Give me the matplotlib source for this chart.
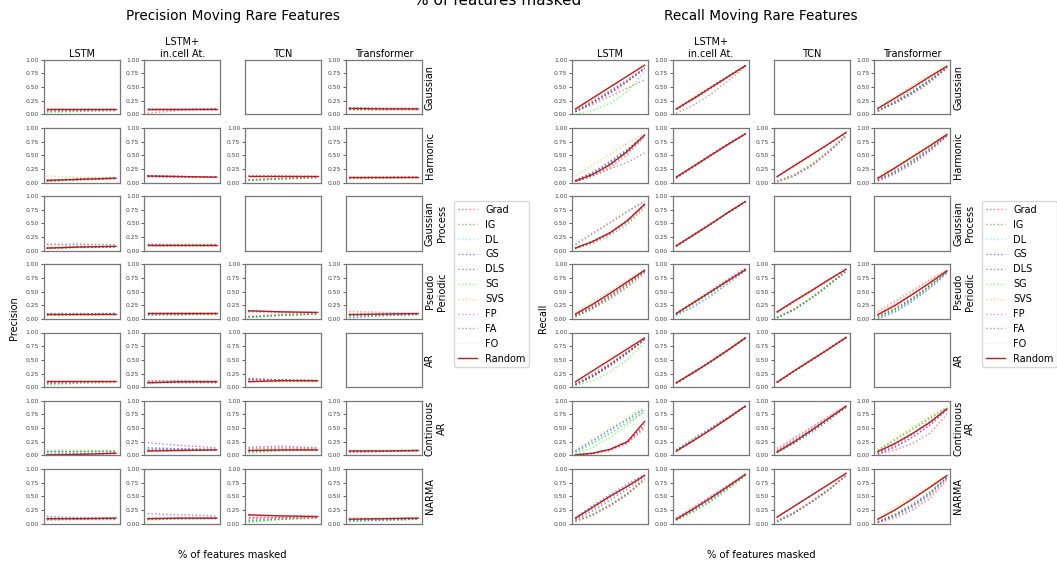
import numpy as np
import matplotlib.pyplot as plt

# attribution methods, in legend order (Random is the solid baseline)
METHODS = ["Grad", "IG", "DL", "GS", "DLS", "SG", "SVS", "FP", "FA", "FO", "Random"]
COLORS = ["red", "green", "cyan", "blue", "purple", "lime", "orange",
          "deeppink", "brown", "pink", "firebrick"]

MODELS = ["LSTM", "LSTM+", "TCN", "Transformer"]
MODEL_TITLES = ["LSTM", "LSTM+\nin.cell At.", "TCN", "Transformer"]
DATASETS = ["Gaussian", "Harmonic", "Gaussian\nProcess", "Pseudo\nPeriodic",
            "AR", "Continuous\nAR", "NARMA"]

# fraction of features masked
PREC_X = [0.1, 0.5, 0.9]
REC_X = [0.1, 0.3, 0.5, 0.7, 0.9]

# ---- precision ----
prec_gaussian = {
    "LSTM": [[.10, .10, .10], [.05, .06, .07], [.08, .08, .09], [.09, .09, .09], [.08, .08, .09], [.03, .05, .07],
             [.10, .10, .10], [.06, .07, .08], [.10, .10, .10], [.09, .09, .09], [.10, .10, .10]],
    "LSTM+": [[.02, .08, .10], [.10, .10, .10], [.10, .10, .10], [.09, .09, .10], [.10, .10, .10], [.10, .10, .10],
              [.10, .10, .10], [.08, .09, .10], [.10, .10, .10], [.10, .10, .10], [.10, .10, .10]],
    "Transformer": [[.12, .11, .11], [.09, .09, .09], [.10, .10, .10], [.10, .10, .10], [.10, .10, .10], [.09, .09, .09],
                    [.11, .10, .10], [.11, .11, .10], [.12, .11, .11], [.11, .10, .10], [.11, .10, .10]],
}
prec_harmonic = {
    "LSTM": [[.03, .06, .08], [.03, .06, .08], [.04, .07, .09], [.04, .06, .08], [.04, .07, .09], [.02, .05, .07],
             [.12, .10, .09], [.03, .05, .07], [.03, .06, .08], [.03, .06, .08], [.04, .06, .08]],
    "LSTM+": [[.13, .11, .10], [.12, .11, .10], [.11, .10, .10], [.11, .10, .10], [.12, .11, .10], [.12, .11, .10],
              [.12, .11, .10], [.11, .10, .10], [.13, .11, .10], [.12, .11, .10], [.12, .11, .10]],
    "TCN": [[.12, .12, .11], [.05, .07, .10], [.04, .07, .09], [.04, .07, .09], [.05, .08, .10], [.04, .07, .10],
            [.05, .08, .10], [.12, .11, .11], [.12, .12, .11], [.11, .11, .11], [.12, .12, .12]],
    "Transformer": [[.10, .10, .10], [.08, .09, .10], [.09, .09, .10], [.08, .09, .10], [.08, .09, .10], [.07, .08, .09],
                    [.10, .10, .10], [.09, .10, .10], [.10, .10, .10], [.09, .10, .10], [.10, .10, .10]],
}
prec_gauss_proc = {
    "LSTM": [[.05, .07, .08], [.05, .07, .08], [.06, .07, .08], [.12, .12, .11], [.05, .07, .08], [.04, .06, .07],
             [.10, .10, .10], [.04, .06, .07], [.05, .07, .08], [.05, .07, .08], [.05, .07, .08]],
    "LSTM+": [[.10, .11, .11], [.11, .11, .11], [.11, .11, .11], [.11, .11, .11], [.12, .11, .11], [.10, .11, .11],
              [.11, .11, .11], [.11, .11, .11], [.11, .11, .11], [.11, .11, .11], [.11, .11, .11]],
}
prec_pseudo = {
    "LSTM": [[.09, .09, .10], [.07, .08, .09], [.09, .09, .09], [.09, .09, .10], [.08, .09, .09], [.06, .07, .08],
             [.10, .10, .10], [.08, .08, .09], [.09, .09, .10], [.09, .09, .09], [.10, .10, .10]],
    "LSTM+": [[.11, .11, .11], [.10, .10, .10], [.09, .10, .10], [.07, .08, .10], [.11, .11, .11], [.10, .10, .10],
              [.11, .11, .11], [.11, .11, .11], [.11, .11, .11], [.12, .11, .11], [.11, .11, .11]],
    "TCN": [[.14, .12, .11], [.04, .07, .09], [.03, .07, .09], [.03, .07, .09], [.05, .08, .10], [.03, .07, .09],
            [.05, .08, .10], [.13, .12, .11], [.15, .13, .12], [.12, .11, .11], [.15, .13, .12]],
    "Transformer": [[.10, .10, .10], [.06, .08, .09], [.04, .07, .08], [.02, .06, .08], [.07, .08, .09], [.06, .07, .08],
                    [.09, .10, .10], [.14, .12, .10], [.09, .10, .10], [.12, .11, .10], [.08, .09, .10]],
}
prec_ar = {
    "LSTM": [[.11, .11, .11], [.06, .08, .09], [.08, .09, .10], [.08, .09, .10], [.09, .10, .10], [.04, .07, .09],
             [.10, .10, .10], [.07, .09, .10], [.11, .11, .11], [.10, .10, .10], [.11, .11, .11]],
    "LSTM+": [[.11, .11, .11], [.09, .10, .10], [.10, .10, .10], [.10, .10, .10], [.12, .12, .11], [.09, .10, .10],
              [.10, .10, .10], [.11, .11, .11], [.10, .10, .10], [.11, .11, .11], [.08, .10, .10]],
    "TCN": [[.14, .13, .12], [.12, .12, .12], [.13, .12, .12], [.16, .13, .12], [.15, .13, .12], [.12, .12, .12],
            [.13, .12, .12], [.14, .13, .12], [.13, .12, .12], [.13, .12, .12], [.10, .12, .12]],
}
prec_cont_ar = {
    "LSTM": [[.00, .02, .03], [.08, .08, .08], [.08, .08, .08], [.07, .07, .08], [.02, .03, .04], [.06, .07, .08],
             [.10, .10, .09], [.01, .02, .03], [.02, .03, .04], [.01, .02, .03], [.01, .02, .04]],
    "LSTM+": [[.09, .10, .10], [.09, .09, .10], [.13, .12, .11], [.14, .12, .11], [.23, .18, .14], [.09, .09, .10],
              [.10, .10, .10], [.11, .11, .11], [.09, .10, .10], [.10, .10, .10], [.08, .09, .10]],
    "TCN": [[.10, .10, .10], [.06, .09, .10], [.08, .10, .11], [.08, .10, .11], [.15, .17, .14], [.04, .09, .10],
            [.09, .10, .11], [.13, .14, .13], [.12, .13, .12], [.12, .13, .12], [.09, .10, .10]],
    "Transformer": [[.08, .08, .09], [.08, .08, .09], [.07, .08, .09], [.05, .07, .08], [.08, .08, .09], [.09, .09, .09],
                    [.10, .10, .10], [.08, .08, .09], [.08, .09, .09], [.09, .09, .09], [.08, .08, .09]],
}
prec_narma = {
    "LSTM": [[.09, .09, .09], [.07, .08, .09], [.07, .08, .09], [.13, .11, .10], [.10, .10, .10], [.07, .08, .09],
             [.09, .09, .10], [.07, .08, .09], [.10, .10, .10], [.08, .08, .09], [.09, .09, .10]],
    "LSTM+": [[.10, .10, .10], [.07, .09, .10], [.09, .10, .10], [.09, .10, .10], [.18, .16, .14], [.07, .09, .10],
              [.10, .10, .10], [.11, .11, .11], [.10, .10, .10], [.12, .12, .11], [.09, .10, .10]],
    "TCN": [[.12, .12, .12], [.03, .08, .10], [.05, .09, .11], [.06, .09, .11], [.10, .11, .12], [.03, .08, .10],
            [.07, .10, .11], [.12, .12, .12], [.15, .14, .13], [.11, .12, .12], [.16, .14, .13]],
    "Transformer": [[.09, .09, .10], [.06, .07, .08], [.05, .07, .08], [.04, .06, .08], [.07, .08, .09], [.06, .07, .08],
                    [.11, .10, .10], [.08, .09, .09], [.09, .09, .10], [.09, .09, .10], [.08, .09, .10]],
}

# ---- recall ----
rec_gaussian = {
    "LSTM": [[.08, .26, .44, .63, .85], [.06, .22, .40, .60, .84], [.07, .24, .43, .63, .86], [.06, .23, .42, .62, .85],
             [.05, .22, .40, .61, .84], [.00, .07, .20, .42, .78], [.10, .30, .50, .70, .90], [.05, .20, .38, .59, .83],
             [.05, .18, .33, .48, .63], [.07, .25, .43, .63, .86], [.10, .30, .50, .70, .90]],
    "LSTM+": [[.09, .28, .48, .69, .89], [.09, .29, .49, .69, .89], [.10, .30, .50, .70, .89], [.09, .29, .49, .69, .89],
              [.10, .31, .51, .70, .89], [.09, .28, .48, .69, .89], [.10, .30, .50, .70, .89], [.08, .28, .48, .68, .89],
              [.02, .17, .37, .61, .87], [.09, .29, .49, .69, .89], [.10, .29, .49, .69, .89]],
    "Transformer": [[.07, .21, .38, .59, .85], [.07, .23, .41, .62, .86], [.06, .23, .41, .62, .86], [.05, .22, .40, .62, .86],
                    [.07, .24, .42, .63, .86], [.06, .22, .40, .62, .86], [.11, .32, .53, .73, .90], [.07, .20, .37, .58, .84],
                    [.09, .27, .46, .67, .88], [.08, .26, .45, .66, .87], [.11, .30, .49, .69, .88]],
}
rec_harmonic = {
    "LSTM": [[.02, .13, .30, .54, .84], [.03, .15, .33, .57, .86], [.04, .18, .38, .60, .86], [.04, .17, .36, .59, .86],
             [.04, .19, .39, .61, .87], [.02, .13, .31, .56, .86], [.12, .32, .52, .72, .90], [.02, .12, .27, .50, .84],
             [.02, .12, .25, .37, .54], [.03, .14, .31, .55, .85], [.03, .15, .33, .57, .87]],
    "LSTM+": [[.10, .30, .50, .70, .89], [.10, .30, .50, .70, .89], [.09, .30, .51, .70, .89], [.08, .28, .49, .69, .89],
              [.09, .30, .52, .71, .89], [.10, .30, .50, .70, .89], [.10, .31, .51, .71, .90], [.09, .29, .50, .70, .89],
              [.10, .30, .50, .70, .89], [.10, .30, .51, .70, .89], [.10, .30, .50, .70, .89]],
    "TCN": [[.10, .30, .50, .70, .91], [.03, .14, .33, .58, .87], [.02, .13, .32, .57, .86], [.02, .13, .31, .56, .86],
            [.02, .13, .32, .57, .86], [.03, .15, .34, .58, .87], [.02, .14, .33, .58, .87], [.01, .12, .30, .55, .85],
            [.11, .31, .51, .71, .91], [.02, .13, .32, .57, .86], [.11, .31, .51, .71, .92]],
    "Transformer": [[.06, .21, .40, .62, .87], [.07, .23, .42, .64, .88], [.05, .20, .39, .61, .86], [.04, .18, .37, .59, .86],
                    [.03, .16, .34, .57, .85], [.06, .21, .40, .62, .87], [.10, .29, .49, .69, .89], [.05, .20, .38, .60, .86],
                    [.09, .27, .47, .67, .88], [.07, .24, .43, .65, .88], [.08, .27, .47, .67, .88]],
}
rec_gauss_proc = {
    "LSTM": [[.05, .16, .32, .53, .83], [.05, .17, .33, .55, .84], [.05, .18, .34, .56, .85], [.12, .32, .52, .72, .91],
             [.05, .17, .33, .55, .84], [.04, .13, .28, .47, .78], [.10, .30, .50, .70, .90], [.04, .14, .30, .50, .80],
             [.05, .17, .33, .55, .85], [.05, .16, .32, .53, .83], [.05, .17, .33, .55, .85]],
    "LSTM+": [[.09, .29, .49, .70, .90], [.08, .28, .48, .69, .89], [.09, .29, .49, .70, .90], [.09, .29, .50, .70, .90],
              [.10, .30, .50, .70, .90], [.08, .28, .48, .69, .90], [.09, .29, .49, .70, .90], [.09, .29, .49, .70, .90],
              [.08, .28, .49, .70, .90], [.09, .29, .49, .70, .90], [.09, .29, .49, .70, .90]],
}
rec_pseudo = {
    "LSTM": [[.06, .22, .42, .64, .88], [.05, .20, .39, .61, .86], [.08, .26, .46, .67, .89], [.09, .27, .47, .68, .89],
             [.07, .24, .44, .66, .88], [.04, .18, .36, .57, .82], [.12, .32, .52, .72, .91], [.04, .19, .37, .59, .85],
             [.06, .22, .41, .63, .87], [.08, .26, .46, .67, .89], [.09, .27, .47, .68, .89]],
    "LSTM+": [[.10, .30, .50, .71, .91], [.09, .28, .48, .69, .90], [.08, .26, .46, .68, .89], [.07, .22, .42, .65, .88],
              [.10, .31, .51, .72, .92], [.09, .28, .48, .69, .90], [.10, .30, .50, .71, .91], [.10, .31, .52, .73, .93],
              [.10, .30, .50, .70, .90], [.11, .32, .53, .74, .94], [.10, .30, .50, .70, .90]],
    "TCN": [[.12, .32, .52, .72, .91], [.03, .18, .39, .63, .88], [.02, .17, .38, .62, .88], [.02, .17, .38, .62, .87],
            [.03, .18, .39, .63, .88], [.02, .17, .38, .62, .88], [.03, .19, .40, .64, .89], [.12, .31, .51, .71, .91],
            [.13, .32, .52, .72, .91], [.11, .30, .50, .70, .90], [.13, .33, .52, .72, .91]],
    "Transformer": [[.05, .20, .39, .62, .87], [.03, .17, .36, .60, .86], [.02, .15, .34, .58, .85], [.00, .13, .32, .56, .84],
                    [.04, .18, .37, .60, .86], [.03, .16, .35, .59, .86], [.10, .29, .49, .70, .90], [.14, .33, .52, .72, .90],
                    [.07, .24, .44, .66, .88], [.12, .31, .50, .70, .89], [.08, .25, .45, .66, .88]],
}
rec_ar = {
    "LSTM": [[.06, .22, .42, .64, .88], [.05, .20, .40, .62, .87], [.07, .24, .44, .66, .89], [.05, .20, .40, .63, .88],
             [.06, .22, .42, .64, .88], [.03, .12, .28, .50, .82], [.08, .26, .46, .67, .89], [.04, .18, .38, .61, .87],
             [.06, .22, .42, .64, .88], [.07, .24, .44, .66, .89], [.10, .30, .50, .70, .90]],
    "LSTM+": [[.08, .27, .47, .68, .90], [.07, .26, .46, .67, .89], [.08, .27, .47, .68, .90], [.07, .26, .46, .68, .90],
              [.08, .28, .48, .69, .90], [.07, .26, .46, .67, .89], [.08, .27, .47, .68, .90], [.08, .28, .48, .69, .91],
              [.08, .27, .47, .68, .90], [.08, .28, .48, .69, .90], [.08, .27, .47, .68, .90]],
    "TCN": [[.09, .30, .50, .70, .91], [.09, .29, .50, .70, .91], [.09, .30, .50, .70, .91], [.09, .30, .50, .70, .91],
            [.09, .30, .50, .71, .91], [.09, .29, .50, .70, .91], [.09, .30, .50, .70, .91], [.10, .30, .51, .71, .92],
            [.09, .30, .50, .70, .91], [.10, .30, .51, .71, .92], [.09, .30, .50, .70, .91]],
}
rec_cont_ar = {
    "LSTM": [[.00, .03, .09, .22, .50], [.06, .22, .40, .60, .80], [.07, .25, .44, .64, .85], [.08, .27, .47, .66, .85],
             [.01, .04, .11, .25, .55], [.03, .15, .32, .55, .82], [.10, .30, .50, .69, .88], [.00, .03, .10, .23, .52],
             [.01, .04, .11, .25, .58], [.00, .03, .08, .20, .48], [.01, .04, .11, .25, .62]],
    "LSTM+": [[.08, .28, .48, .69, .90], [.08, .28, .48, .68, .89], [.12, .32, .51, .70, .90], [.10, .30, .50, .70, .90],
              [.09, .29, .49, .69, .90], [.08, .28, .48, .68, .89], [.09, .29, .49, .69, .90], [.08, .27, .47, .68, .90],
              [.08, .27, .47, .68, .89], [.09, .29, .49, .69, .90], [.08, .27, .47, .68, .90]],
    "TCN": [[.10, .30, .50, .70, .90], [.06, .24, .44, .66, .88], [.07, .25, .45, .67, .89], [.05, .22, .42, .64, .88],
            [.08, .27, .47, .68, .90], [.05, .23, .44, .66, .89], [.07, .26, .46, .68, .89], [.13, .33, .52, .72, .91],
            [.07, .26, .46, .68, .90], [.12, .32, .51, .71, .90], [.06, .25, .46, .68, .90]],
    "Transformer": [[.02, .10, .22, .40, .75], [.09, .28, .47, .67, .87], [.04, .18, .37, .59, .85], [.02, .15, .33, .55, .83],
                    [.05, .19, .38, .60, .85], [.10, .30, .50, .70, .88], [.10, .30, .50, .70, .89], [.04, .16, .33, .55, .83],
                    [.06, .21, .40, .62, .86], [.05, .19, .37, .59, .85], [.07, .22, .40, .60, .85]],
}
rec_narma = {
    "LSTM": [[.05, .17, .34, .55, .82], [.05, .17, .34, .55, .82], [.08, .25, .45, .66, .88], [.11, .33, .53, .72, .90],
             [.07, .23, .42, .63, .86], [.04, .15, .32, .52, .80], [.09, .28, .48, .68, .88], [.04, .15, .32, .53, .80],
             [.09, .28, .48, .68, .88], [.05, .18, .36, .57, .84], [.10, .30, .50, .68, .88]],
    "LSTM+": [[.09, .28, .49, .70, .90], [.06, .22, .41, .63, .88], [.08, .26, .46, .67, .89], [.07, .24, .44, .66, .89],
              [.09, .28, .48, .69, .90], [.06, .22, .41, .63, .88], [.08, .26, .46, .67, .89], [.11, .30, .50, .70, .90],
              [.08, .27, .47, .68, .90], [.10, .29, .49, .69, .90], [.08, .27, .47, .68, .90]],
    "TCN": [[.05, .21, .41, .63, .88], [.03, .19, .39, .62, .88], [.04, .20, .40, .62, .88], [.04, .20, .40, .62, .88],
            [.04, .20, .40, .63, .88], [.03, .19, .39, .61, .87], [.05, .21, .41, .63, .88], [.04, .20, .40, .62, .88],
            [.11, .31, .51, .71, .91], [.05, .21, .41, .63, .88], [.12, .32, .52, .72, .92]],
    "Transformer": [[.02, .10, .25, .45, .80], [.04, .16, .34, .56, .85], [.03, .15, .32, .54, .84], [.02, .15, .32, .54, .84],
                    [.04, .17, .35, .57, .85], [.05, .18, .36, .58, .86], [.10, .30, .50, .70, .88], [.03, .13, .29, .50, .82],
                    [.08, .25, .45, .66, .88], [.05, .18, .36, .58, .86], [.08, .25, .45, .66, .88]],
}

PRECISION_ROWS = [prec_gaussian, prec_harmonic, prec_gauss_proc, prec_pseudo,
                  prec_ar, prec_cont_ar, prec_narma]
RECALL_ROWS = [rec_gaussian, rec_harmonic, rec_gauss_proc, rec_pseudo,
               rec_ar, rec_cont_ar, rec_narma]

# layout in pixels
W, H = 1057, 564
AX_W, AX_H = 76, 54.7
COL_STEP, ROW_STEP = 100.8, 68.2
TOP0 = 59.7

fig = plt.figure(figsize=(W / 100, H / 100), dpi=100)


def px_box(left, top):
    return [left / W, 1 - (top + AX_H) / H, AX_W / W, AX_H / H]


def draw_panel(x0, rows, xs, title, ylabel, legend_xy):
    handles = None
    for r, (name, data) in enumerate(zip(DATASETS, rows)):
        for c, model in enumerate(MODELS):
            ax = fig.add_axes(px_box(x0 + c * COL_STEP, TOP0 + r * ROW_STEP))
            for sp in ax.spines.values():
                sp.set_color("#777777")
                sp.set_linewidth(0.9)
            ax.set_xticks([])
            if model in data:
                lines = []
                for meth, col, ys in zip(METHODS, COLORS, data[model]):
                    if meth == "Random":
                        ln, = ax.plot(xs, ys, color=col, lw=1.0, label=meth)
                    else:
                        ln, = ax.plot(xs, ys, color=col, lw=1.0, ls=":",
                                      alpha=0.5, label=meth)
                    lines.append(ln)
                if handles is None:
                    handles = lines
                ax.set_ylim(0, 1)
                ax.set_yticks([0, 0.25, 0.5, 0.75, 1.0])
                ax.set_yticklabels(["0.00", "0.25", "0.50", "0.75", "1.00"])
                ax.tick_params(axis="y", labelsize=4.3, length=2, width=0.6,
                               pad=1.5, colors="#444444")
            else:
                ax.set_yticks([])
            if r == 0:
                ax.set_title(MODEL_TITLES[c], fontsize=7, pad=2)
            if c == len(MODELS) - 1:
                ax.text(1.04, 0.5, name, transform=ax.transAxes, rotation=90,
                        ha="left", va="center", fontsize=7,
                        multialignment="center")
    mid = x0 + 1.5 * COL_STEP + AX_W / 2
    fig.text(mid / W, 1 - 16 / H, title, ha="center", va="center", fontsize=9.8)
    fig.text(mid / W, 1 - 555 / H, "% of features masked",
             ha="center", va="center", fontsize=7.2)
    fig.text((x0 - 29) / W, 1 - 318 / H, ylabel, rotation=90,
             ha="center", va="center", fontsize=7)
    fig.legend(handles, METHODS, loc="upper left",
               bbox_to_anchor=(legend_xy[0] / W, 1 - legend_xy[1] / H),
               fontsize=7, borderaxespad=0)


draw_panel(43.5, PRECISION_ROWS, PREC_X, "Precision Moving Rare Features",
           "Precision", (454, 201))
draw_panel(572, RECALL_ROWS, REC_X, "Recall Moving Rare Features",
           "Recall", (982, 201))

# shared axis caption, clipped at the top edge
fig.text(498 / W, 1 - 5 / H, "% of features masked", ha="center",
         va="baseline", fontsize=11)

fig.savefig("out.png", dpi=100)
